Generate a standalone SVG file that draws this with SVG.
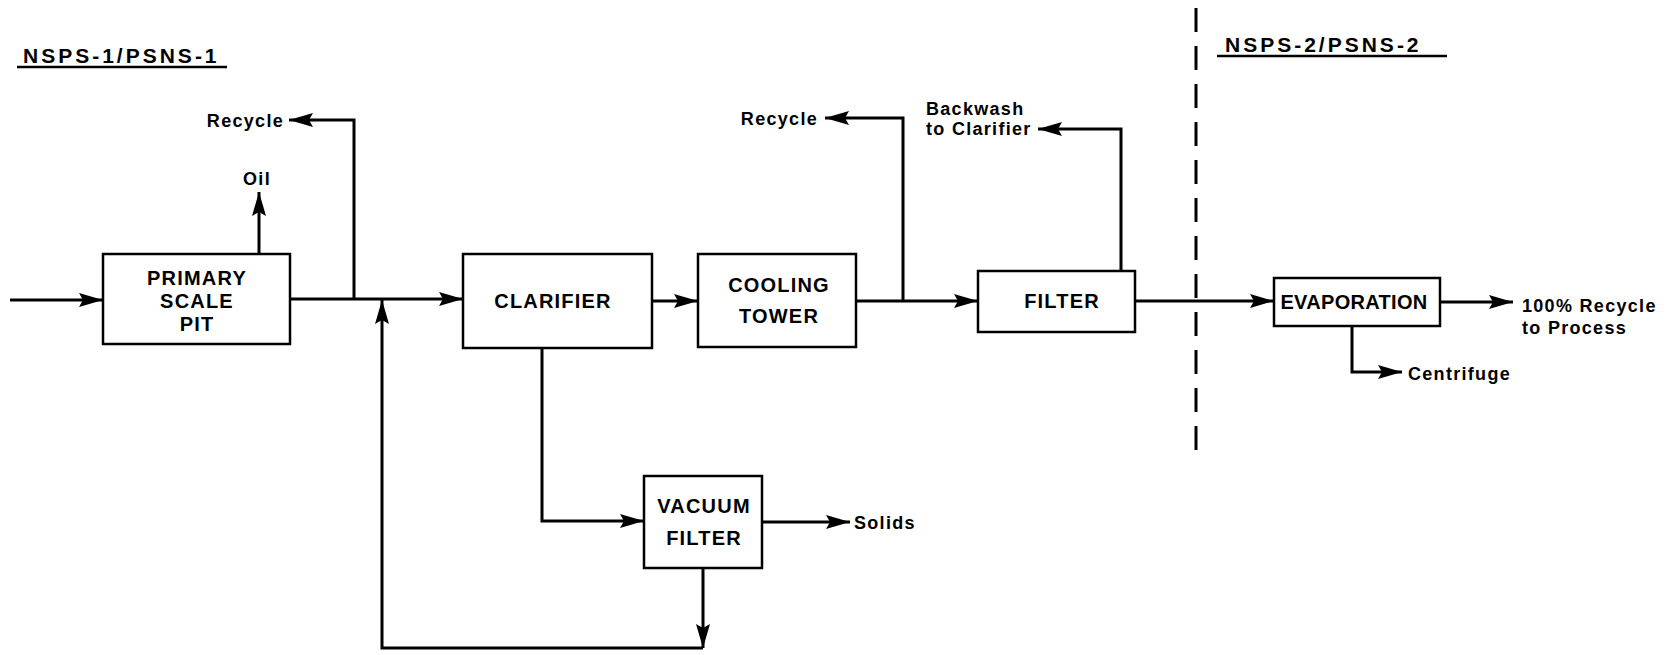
<svg xmlns="http://www.w3.org/2000/svg" width="1678" height="655" viewBox="0 0 1678 655">
<style>
  .box { fill: #fff; stroke: #000; stroke-width: 2.5; }
  .lbl { font-family: "Liberation Sans", Arial, sans-serif; font-weight: bold; font-size: 20px; letter-spacing: 1.2px; fill: #000; text-anchor: middle; }
  .sm { font-family: "Liberation Sans", Arial, sans-serif; font-weight: bold; font-size: 18px; letter-spacing: 1.3px; fill: #000; }
  .title { font-family: "Liberation Sans", Arial, sans-serif; font-weight: bold; font-size: 21px; letter-spacing: 3px; fill: #000; }
  .ln { fill: none; stroke: #000; stroke-width: 3; }
  .arr { fill: none; stroke: #000; stroke-width: 3; marker-end: url(#ah); }
</style>
<defs>
  <marker id="ah" markerUnits="userSpaceOnUse" markerWidth="26" markerHeight="16" refX="24" refY="8" orient="auto">
    <path d="M0,1 L24,8 L0,15 L4,8 Z" fill="#000"/>
  </marker>
</defs>
<rect width="1678" height="655" fill="#fff"/>

<g id="titles">
  <text class="title" x="23" y="63">NSPS-1/PSNS-1</text>
  <line x1="17" y1="67" x2="227" y2="67" stroke="#000" stroke-width="2.5"/>
  <text class="title" x="1225" y="52">NSPS-2/PSNS-2</text>
  <line x1="1217" y1="56" x2="1447" y2="56" stroke="#000" stroke-width="2.5"/>
  <line x1="1196" y1="8" x2="1196" y2="460" stroke="#000" stroke-width="3" stroke-dasharray="24 14"/>
</g>

<g id="connectors">
  <path class="arr" d="M10,300 H103"/>
  <path class="arr" d="M290,299 H463"/>
  <path class="arr" d="M354,299 V120 H289"/>
  <path class="arr" d="M259,254 V192"/>
  <path class="arr" d="M703,568 V648"/>
  <path class="arr" d="M703,648 H382 V300"/>
  <path class="arr" d="M652,301 H698"/>
  <path class="arr" d="M856,301 H978"/>
  <path class="arr" d="M903,301 V118 H825"/>
  <path class="arr" d="M1121,271 V129 H1038"/>
  <path class="arr" d="M1135,301 H1274"/>
  <path class="arr" d="M1440,302 H1513"/>
  <path class="arr" d="M1352,326 V372 H1402"/>
  <path class="arr" d="M542,348 V521 H644"/>
  <path class="arr" d="M762,522 H850"/>
</g>

<g id="primary">
  <rect class="box" x="103" y="254" width="187" height="90"/>
  <text class="lbl" x="197" y="285">PRIMARY</text>
  <text class="lbl" x="197" y="308">SCALE</text>
  <text class="lbl" x="197" y="331">PIT</text>
</g>
<g id="clarifier">
  <rect class="box" x="463" y="254" width="189" height="94"/>
  <text class="lbl" x="553" y="308">CLARIFIER</text>
</g>
<g id="cooling">
  <rect class="box" x="698" y="254" width="158" height="93"/>
  <text class="lbl" x="779" y="292">COOLING</text>
  <text class="lbl" x="779" y="323">TOWER</text>
</g>
<g id="filter">
  <rect class="box" x="978" y="271" width="157" height="61"/>
  <text class="lbl" x="1062" y="308">FILTER</text>
</g>
<g id="evaporation">
  <rect class="box" x="1274" y="278" width="166" height="48"/>
  <text class="lbl" x="1354" y="309" style="letter-spacing:0.3px">EVAPORATION</text>
</g>
<g id="vacuum">
  <rect class="box" x="644" y="476" width="118" height="92"/>
  <text class="lbl" x="704" y="513">VACUUM</text>
  <text class="lbl" x="704" y="545">FILTER</text>
</g>

<g id="labels">
  <text class="sm" x="284" y="127" text-anchor="end">Recycle</text>
  <text class="sm" x="257" y="185" text-anchor="middle">Oil</text>
  <text class="sm" x="818" y="125" text-anchor="end">Recycle</text>
  <text class="sm" x="926" y="115">Backwash</text>
  <text class="sm" x="926" y="135">to Clarifier</text>
  <text class="sm" x="1522" y="312">100% Recycle</text>
  <text class="sm" x="1522" y="334">to Process</text>
  <text class="sm" x="1408" y="380">Centrifuge</text>
  <text class="sm" x="854" y="529">Solids</text>
</g>
</svg>
